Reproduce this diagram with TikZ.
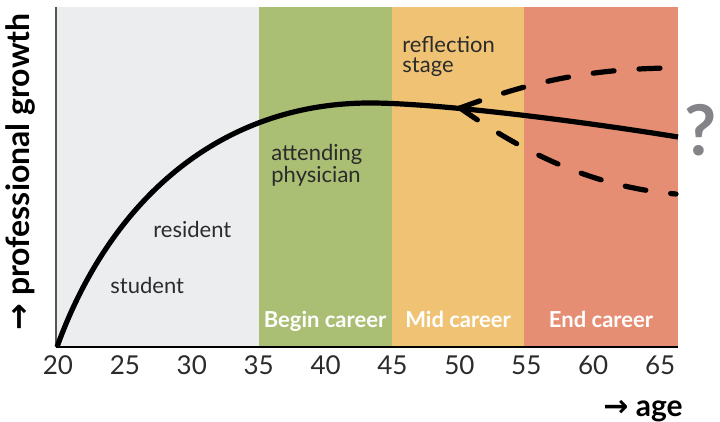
\documentclass[tikz,border=0pt]{standalone}
\usepackage{fontspec}
\setmainfont{Lato}
\newfontfamily\arrowfont{DejaVu Sans}
\usepackage{xcolor}
\usepackage{tikz}

\definecolor{bandgray}{HTML}{ECEDEF}
\definecolor{bandgreen}{HTML}{AABE74}
\definecolor{bandorange}{HTML}{F0C374}
\definecolor{bandred}{HTML}{E58E73}
\definecolor{labeltext}{HTML}{2B2B2B}
\definecolor{qgray}{HTML}{838388}
\definecolor{axisgray}{HTML}{555555}

\tikzset{
  stagelabel/.style={anchor=base west, text=labeltext, align=left, inner sep=0pt,
    font=\fontsize{11}{10}\selectfont},
  bandlabel/.style={anchor=base, text=white, inner sep=0pt,
    font=\bfseries\fontsize{11}{13}\selectfont},
  ticklabel/.style={anchor=base, text=labeltext, inner sep=0pt,
    font=\fontsize{13}{15}\selectfont},
  axislabel/.style={inner sep=0pt, font=\bfseries\fontsize{15}{17}\selectfont},
  growth/.style={line width=2.6pt},
  outlook/.style={line width=2.6pt, line cap=round, dash pattern=on 10.5pt off 12.5pt},
}

\begin{document}
\begin{tikzpicture}[x=0.5pt,y=-0.5pt]
\useasboundingbox (0,0) rectangle (720,422);

\fill[bandgray] (56,7) rectangle (259,347);
\fill[bandgreen] (259,7) rectangle (392,347);
\fill[bandorange] (392,7) rectangle (524,347);
\fill[bandred] (524,7) rectangle (678,347);

\draw[axisgray, line width=1.2pt] (56,7) -- (56,347);
\draw[line width=1pt] (56,347) -- (678,347);

\node[bandlabel] (begin) at (325,328) {Begin career};
\node[bandlabel] (mid) at (458,328) {Mid career};
\node[bandlabel] (endcareer) at (601,328) {End career};

\foreach \age [count=\i from 0] in {20,25,...,65}
  \node[ticklabel] (tick\age) at (58+66.9*\i,375) {\age};

\node[stagelabel] (student) at (110,294) {student};
\node[stagelabel] (resident) at (153,238) {resident};
\node[stagelabel] (attending) at (271,183) {attending\\physician};
\node[stagelabel] (reflection) at (402,73) {reflection\\stage};

\coordinate (start) at (57,347);
\coordinate (peak) at (370,103);
\coordinate (fork) at (460,108);
\coordinate (finish) at (678,137);
\coordinate (high) at (678,68);
\coordinate (low) at (676,194);

\draw[growth] (start) .. controls (110,200) and (220,103) .. (peak)
  .. controls (430,103) and (560,118) .. (finish);
\draw[outlook] (fork) .. controls (530,82) and (590,68) .. (high);
\draw[outlook] (fork) .. controls (520,150) and (590,187) .. (low);

\node[text=qgray, inner sep=0pt, font=\bfseries\fontsize{35}{40}\selectfont] (question) at (701,130) {?};

\node[axislabel, rotate=90, font=\bfseries\fontsize{16}{18}\selectfont] (ylabel) at (21,172) {{\arrowfont\bfseries →} professional growth};
\node[axislabel, anchor=base east] (xlabel) at (683,417) {{\arrowfont\bfseries →} age};
\end{tikzpicture}
\end{document}
